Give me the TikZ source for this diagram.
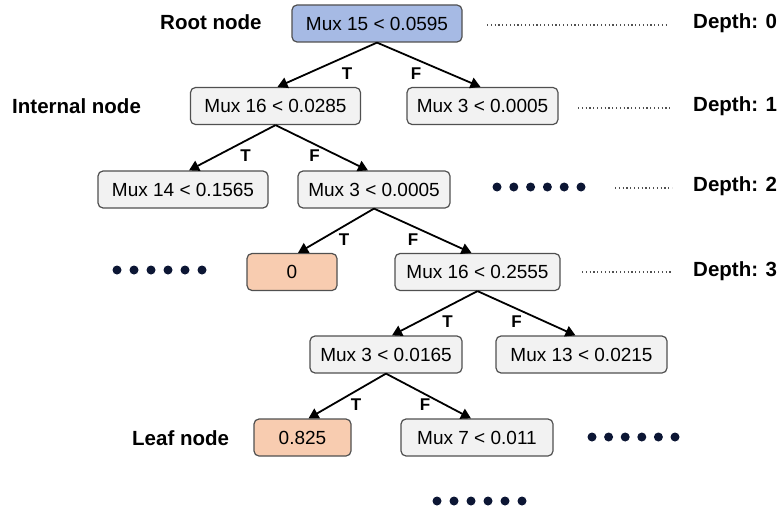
\documentclass[tikz,border=0pt]{standalone}
\usepackage{fontspec}
\setmainfont{Liberation Sans}
\usetikzlibrary{arrows.meta}
\definecolor{rootblue}{RGB}{166,186,228}
\definecolor{leafpeach}{RGB}{248,204,176}
\definecolor{nodegray}{RGB}{242,242,242}
\definecolor{edgegray}{RGB}{80,80,80}
\definecolor{dotnavy}{RGB}{12,22,52}
\tikzset{
  box/.style={draw=edgegray, line width=1.2pt, rounded corners=5pt, fill=nodegray,
    minimum height=37pt, inner sep=0pt, font=\fontsize{19}{22}\selectfont},
  rootbox/.style={box, fill=rootblue},
  leafbox/.style={box, fill=leafpeach},
  tag/.style={font=\fontsize{20.5}{24}\selectfont\bfseries, inner sep=0pt},
  tflab/.style={font=\fontsize{17}{20}\selectfont\bfseries, inner sep=0pt},
  link/.style={line width=1.8pt, -{Triangle[length=10pt,width=11pt]}},
  lev/.style={line width=1.2pt, edgegray, dash pattern=on 1.2pt off 2.6pt},
  bigdot/.style={circle, fill=dotnavy, inner sep=0pt, minimum size=9pt}
}
\begin{document}
\begin{tikzpicture}[x=1pt,y=-1pt]
\useasboundingbox (0,0) rectangle (783,513);
% nodes
\node[rootbox, minimum width=170pt] (r) at (377,23.5) {Mux 15 < 0.0595};
\node[box, minimum width=170pt] (a) at (275.5,106) {Mux 16 < 0.0285};
\node[box, minimum width=151pt] (b) at (482.5,106) {Mux 3 < 0.0005};
\node[box, minimum width=170pt] (c) at (183,189.5) {Mux 14 < 0.1565};
\node[box, minimum width=152pt] (d) at (374,189.5) {Mux 3 < 0.0005};
\node[leafbox, minimum width=90pt] (e) at (292,272) {0};
\node[box, minimum width=165pt] (f) at (477.5,272) {Mux 16 < 0.2555};
\node[box, minimum width=152pt] (g) at (386,354.5) {Mux 3 < 0.0165};
\node[box, minimum width=171pt] (h) at (581.5,354.5) {Mux 13 < 0.0215};
\node[leafbox, minimum width=97pt] (i) at (302.5,437.5) {0.825};
\node[box, minimum width=152pt] (j) at (477,437.5) {Mux 7 < 0.011};
% side labels
\node[tag, anchor=west] (lr) at (160,22) {Root node};
\node[tag, anchor=west] (li) at (12,106) {Internal node};
\node[tag, anchor=west] (ll) at (132,438) {Leaf node};
\node[tag, anchor=west] (d0) at (693,23) {Depth: 0};
\node[tag, anchor=west] (d1) at (693,106) {Depth: 1};
\node[tag, anchor=west] (d2) at (693,186) {Depth: 2};
\node[tag, anchor=west] (d3) at (693,271) {Depth: 3};
% connectors
\draw[link] (r.south) -- ([xshift=2pt]a.north);
\draw[link] (r.south) -- ([xshift=-2pt]b.north);
\draw[link] (a.south) -- ([xshift=6pt]c.north);
\draw[link] (a.south) -- ([xshift=-6pt]d.north);
\draw[link] (d.south) -- ([xshift=6pt]e.north);
\draw[link] (d.south) -- ([xshift=-6pt]f.north);
\draw[link] (f.south) -- ([xshift=6pt]g.north);
\draw[link] (f.south) -- ([xshift=-6pt]h.north);
\draw[link] (g.south) -- ([xshift=6pt]i.north);
\draw[link] (g.south) -- ([xshift=-6pt]j.north);
% T/F labels
\foreach \p in {r,a,d,f,g}{
  \node[tflab] at ([xshift=-30pt,yshift=-31pt]\p.south) {T};
  \node[tflab] at ([xshift=39pt,yshift=-31pt]\p.south) {F};
}
% level guide lines
\coordinate (l0a) at (487,25); \coordinate (l0b) at (668,25);
\coordinate (l1a) at (578,108); \coordinate (l1b) at (670,108);
\coordinate (l2a) at (615,188); \coordinate (l2b) at (672,188);
\coordinate (l3a) at (582,272); \coordinate (l3b) at (673,272);
\draw[lev] (l0a) -- (l0b);
\draw[lev] (l1a) -- (l1b);
\draw[lev] (l2a) -- (l2b);
\draw[lev] (l3a) -- (l3b);
% ellipsis dots
\foreach \k in {0,...,5}{
  \node[bigdot] at (117+17*\k,270) {};
  \node[bigdot] at (497+16.8*\k,187) {};
  \node[bigdot] at (592+16.6*\k,437) {};
  \node[bigdot] at (437+17*\k,501) {};
}
\end{tikzpicture}
\end{document}
